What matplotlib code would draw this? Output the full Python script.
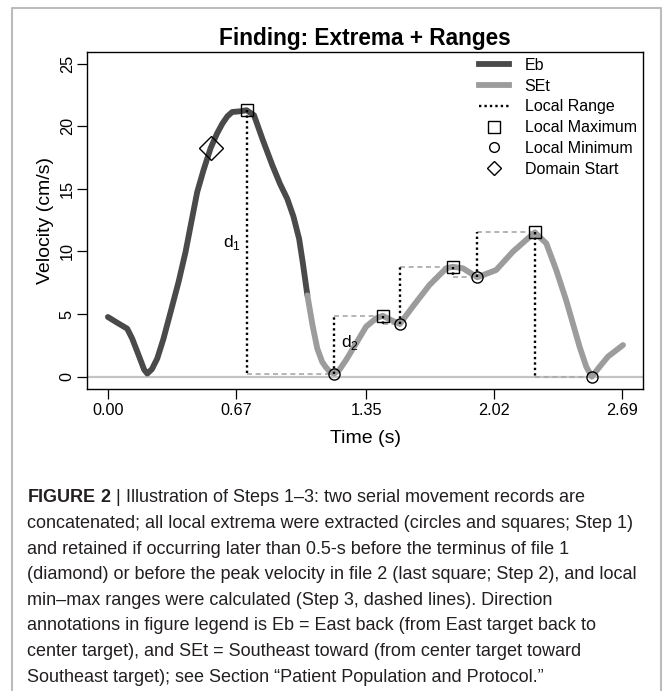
import numpy as np
import matplotlib.pyplot as plt
from matplotlib.lines import Line2D

plt.rcParams['font.family'] = ['Liberation Sans', 'DejaVu Sans']
plt.rcParams['mathtext.fontset'] = 'custom'
plt.rcParams['mathtext.rm'] = 'Liberation Sans'
plt.rcParams['mathtext.bf'] = 'Liberation Sans:bold'

# Data: velocity trace, file 1 (Eb) and file 2 (SEt)
eb_t = [0.000, 0.050, 0.101, 0.127, 0.160, 0.190, 0.206, 0.230, 0.258, 0.290,
        0.328, 0.370, 0.406, 0.437, 0.467, 0.500, 0.537, 0.570, 0.598, 0.625,
        0.650, 0.694, 0.725, 0.764, 0.810, 0.860, 0.900, 0.938, 0.970, 1.000,
        1.020, 1.043]
eb_v = [4.77, 4.30, 3.84, 3.05, 1.75, 0.55, 0.25, 0.60, 1.45, 3.00,
        5.17, 7.60, 9.96, 12.40, 14.75, 16.50, 18.25, 19.40, 20.20, 20.80,
        21.14, 21.20, 21.28, 20.88, 18.90, 16.88, 15.40, 14.20, 12.80, 11.00,
        9.00, 6.50]

set_t = [1.043, 1.070, 1.095, 1.120, 1.139, 1.160, 1.183, 1.210, 1.245, 1.298,
         1.350, 1.402, 1.437, 1.480, 1.526, 1.594, 1.681, 1.769, 1.803, 1.856,
         1.931, 2.030, 2.117, 2.232, 2.292, 2.344, 2.396, 2.466, 2.501, 2.530,
         2.571, 2.614, 2.693]
set_v = [6.50, 4.10, 2.24, 1.20, 0.77, 0.40, 0.25, 0.55, 1.33, 2.67,
         4.00, 4.66, 4.87, 4.53, 4.21, 5.60, 7.32, 8.66, 8.78, 8.66,
         7.94, 8.52, 9.98, 11.53, 10.65, 8.52, 6.10, 2.40, 0.80, 0.00,
         0.80, 1.60, 2.53]

max_t = [0.725, 1.437, 1.803, 2.232]
max_v = [21.28, 4.87, 8.78, 11.53]
min_t = [1.183, 1.526, 1.931, 2.530]
min_v = [0.25, 4.21, 7.94, 0.00]
start_t = [0.537]
start_v = [18.25]

xtick_vals = [0.00, 0.67, 1.35, 2.02, 2.69]
xtick_labels = ['0.00', '0.67', '1.35', '2.02', '2.69']
ytick_vals = [0, 5, 10, 15, 20, 25]

caption_lines = [
    r'$\mathbf{FIGURE\ 2}$ | Illustration of Steps 1–3: two serial movement records are',
    'concatenated; all local extrema were extracted (circles and squares; Step 1)',
    'and retained if occurring later than 0.5-s before the terminus of file 1',
    '(diamond) or before the peak velocity in file 2 (last square; Step 2), and local',
    'min–max ranges were calculated (Step 3, dashed lines). Direction',
    'annotations in figure legend is Eb = East back (from East target back to',
    'center target), and SEt = Southeast toward (from center target toward',
    'Southeast target); see Section “Patient Population and Protocol.”',
]

W, H = 664, 691
fig = plt.figure(figsize=(W / 100, H / 100), dpi=100)
ax = fig.add_axes([87.3 / W, 1 - 389 / H, (643 - 87.3) / W, (389 - 52) / H])

dark = '#4a4a4a'
light = '#9c9c9c'

ax.axhline(0, color='#c4c4c4', lw=1.6, zorder=1)

# local ranges between consecutive extrema
ext = sorted(zip(max_t + min_t, max_v + min_v))
for (t0, v0), (t1, v1) in zip(ext[:-1], ext[1:]):
    ax.plot([t0, t1], [v1, v1], color='#a8a8a8', lw=1.2, dashes=(3, 2.2), zorder=2)
    ax.plot([t0, t0], [v0, v1], color='black', lw=1.7, dashes=(1, 1.3), zorder=4)

ax.plot(eb_t, eb_v, color=dark, lw=4.2, solid_capstyle='round', zorder=3)
ax.plot(set_t, set_v, color=light, lw=4.2, solid_capstyle='round', zorder=3)

ax.plot(max_t, max_v, 's', ms=8, mfc='none', mec='black', mew=1.0, zorder=5)
ax.plot(min_t, min_v, 'o', ms=8, mfc='none', mec='black', mew=1.0, zorder=5)
ax.plot(start_t, start_v, 'D', ms=12, mfc='none', mec='black', mew=1.0, zorder=5)

ax.text(0.65, 10.75, r'$\mathrm{d}_1$', fontsize=12.5, ha='center', va='center')
ax.text(1.22, 2.7, r'$\mathrm{d}_2$', fontsize=12.5, ha='left', va='center')

ax.set_xlim(-0.1076, 2.7976)
ax.set_ylim(-0.98, 25.93)
ax.set_xticks(xtick_vals)
ax.set_xticklabels(xtick_labels)
ax.set_yticks(ytick_vals)
ax.tick_params(direction='out', length=7, width=0.9, labelsize=11.7, pad=3)
ax.tick_params(axis='y', pad=2)
for lab in ax.get_yticklabels():
    lab.set_rotation(90)
    lab.set_va('center')
for sp in ax.spines.values():
    sp.set_linewidth(1.0)

ax.set_title('Finding: Extrema + Ranges', fontsize=16.3, fontweight='bold', pad=5)
ax.set_xlabel('Time (s)', fontsize=14, labelpad=9)
ax.set_ylabel('Velocity (cm/s)', fontsize=14, labelpad=4)

handles = [
    Line2D([], [], color=dark, lw=4.2),
    Line2D([], [], color=light, lw=4.2),
    Line2D([], [], color='black', lw=1.7, dashes=(1, 1.3)),
    Line2D([], [], ls='none', marker='s', ms=8, mfc='none', mec='black', mew=1.0),
    Line2D([], [], ls='none', marker='o', ms=7, mfc='none', mec='black', mew=1.0),
    Line2D([], [], ls='none', marker='D', ms=7, mfc='none', mec='black', mew=1.0),
]
labels = ['Eb', 'SEt', 'Local Range', 'Local Maximum', 'Local Minimum', 'Domain Start']
ax.legend(handles, labels, loc='upper left', bbox_to_anchor=(479 / W, 1 - 58 / H),
          bbox_transform=fig.transFigure, frameon=False, fontsize=11.5,
          handlelength=1.9, handletextpad=0.95, labelspacing=0.36,
          borderpad=0, borderaxespad=0)

# outer panel border
fig.add_artist(Line2D([12 / W, 12 / W, 661 / W, 661 / W], [0, 1 - 8 / H, 1 - 8 / H, 0],
                      color='#bcbcbc', lw=1.5, transform=fig.transFigure))

for i, line in enumerate(caption_lines):
    fig.text(27 / W, 1 - (502.5 + 25.6 * i) / H, line, fontsize=12.95,
             color='#231f20', ha='left', va='baseline')

fig.savefig('out.png', dpi=100)
